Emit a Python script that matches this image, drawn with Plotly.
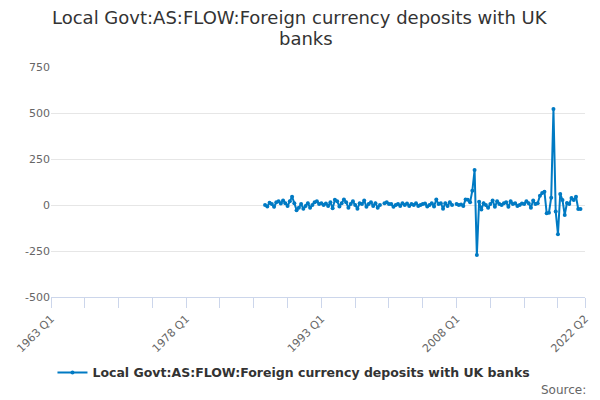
import plotly.graph_objects as go

# quarterly categories on the axis: 1963 Q1 .. 2022 Q2
quarters = [f"{y} Q{q}" for y in range(1963, 2023) for q in range(1, 5)]
quarters = quarters[:quarters.index("2022 Q2") + 1]

# series starts at 1986 Q4 (None = missing quarter)
start = "1986 Q4"
values = [
    0, -8, 12, 5, -10, 15, 20, 8, 25, 10,
    -5, 20, 45, 10, -28, -15, 5, -20, -5, 10,
    -15, 0, 15, 20, 5, 10, 0, 8, -5, 15,
    -18, 28, 20, -8, 10, 30, 15, -15, 5, 20,
    0, -20, 10, 5, 25, -10, 5, 15, -5, 10,
    -15, 0, None, 10, 15, 5, 5, -10, 0, 5,
    -5, 10, 0, 8, -5, 5, 0, 10, -5, 0,
    5, 8, -8, 0, 10, -8, 30, 5, 10, -20,
    10, -5, 15, 0, None, 5, 0, 3, -5, 30,
    28, 15, 78, 190, -272, 18, -25, 10, 0, -15,
    5, 25, -10, 20, 5, 0, 10, 15, -10, 20,
    5, 10, -5, 0, 8, 5, 20, 10, -15, 25,
    5, 10, 50, 65, 72, -45, -42, 40, 522, -36,
    -159, 60, 27, -54, 11, 5, 38, 27, 45, -22,
    -22,
]
i0 = quarters.index(start)
x_data = quarters[i0:i0 + len(values)]

y_ticks = [-500, -250, 0, 250, 500, 750]

series_name = "Local Govt:AS:FLOW:Foreign currency deposits with UK banks"
title_lines = ["Local Govt:AS:FLOW:Foreign currency deposits with UK", "banks"]

# axis ticks every 15 quarters, labels every 60 plus the last quarter
tick_idx = list(range(0, len(quarters) - 1, 15)) + [len(quarters) - 1]
tick_vals = [quarters[i] for i in tick_idx]
tick_text = [quarters[i] if (i % 60 == 0 or i == len(quarters) - 1) else "" for i in tick_idx]

fig = go.Figure()
fig.add_trace(go.Scatter(
    x=x_data, y=values, name=series_name,
    mode="lines+markers",
    line=dict(color="#007ac3", width=2),
    marker=dict(size=4, color="#007ac3"),
    connectgaps=False,
    showlegend=True,
))

annotations = [
    dict(text=title_lines[0], xref="paper", yref="paper", x=0.467, y=1.215,
         xanchor="center", yanchor="middle", showarrow=False,
         font=dict(size=18, color="#333333")),
    dict(text=title_lines[1], xref="paper", yref="paper", x=0.477, y=1.122,
         xanchor="center", yanchor="middle", showarrow=False,
         font=dict(size=18, color="#333333")),
    dict(text="Source:", xref="paper", yref="paper", x=1.006, y=-0.404,
         xanchor="right", yanchor="middle", showarrow=False,
         font=dict(size=12, color="#666666")),
]

fig.update_layout(
    width=600, height=400,
    margin=dict(l=51, r=15, t=67, b=103),
    paper_bgcolor="white", plot_bgcolor="white",
    font=dict(family="DejaVu Sans", color="#666666", size=11),
    showlegend=True,
    legend=dict(orientation="h", x=0.455, xanchor="center", y=-0.33, yanchor="middle",
                font=dict(size=12.5, color="#333333", weight="bold")),
    annotations=annotations,
)

fig.update_xaxes(
    type="category", categoryorder="array", categoryarray=quarters,
    range=[0, len(quarters) - 1], automargin=False,
    tickmode="array", tickvals=tick_vals, ticktext=tick_text,
    tickangle=-45, ticks="outside", ticklen=10, tickcolor="#ccd6eb",
    showline=True, linecolor="#ccd6eb", linewidth=1,
    showgrid=False, zeroline=False,
)
fig.update_yaxes(
    range=[-500, 750], tickmode="array", tickvals=y_ticks,
    ticktext=[str(v) for v in y_ticks],
    showgrid=True, gridcolor="#e6e6e6", zeroline=False,
    ticks="", showline=False, automargin=False,
)

# the page's default body margin would push the 600x400 figure off the window
fig.write_html("out.html", config={"displayModeBar": False},
               post_script="document.body.style.margin='0';")
